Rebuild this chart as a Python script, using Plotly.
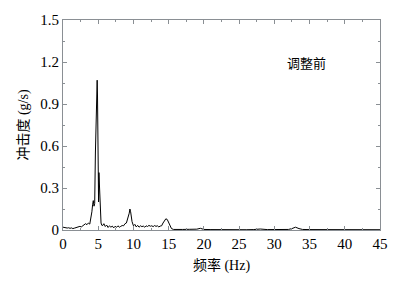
import plotly.graph_objects as go

freq = [0, 0.2, 0.4, 0.6, 0.8, 1.0, 1.2, 1.4, 1.6, 1.8, 2.0, 2.2, 2.4, 2.6, 2.8, 3.0, 3.2, 3.4,
        3.6, 3.8, 4.0, 4.1, 4.2, 4.3, 4.4, 4.5, 4.6, 4.7, 4.8, 4.85, 4.9, 4.95, 5.0, 5.05, 5.1,
        5.15, 5.2, 5.25, 5.3, 5.4, 5.5, 5.6, 5.8, 6.0, 6.2, 6.4, 6.6, 6.8, 7.0, 7.2, 7.4, 7.6,
        7.8, 8.0, 8.2, 8.4, 8.6, 8.8, 9.0, 9.2, 9.4, 9.5, 9.6, 9.8, 10.0, 10.2, 10.4, 10.6, 10.8,
        11.0, 11.2, 11.4, 11.6, 11.8, 12.0, 12.2, 12.4, 12.6, 12.8, 13.0, 13.2, 13.4, 13.6, 13.8,
        14.0, 14.2, 14.4, 14.6, 14.8, 15.0, 15.2, 15.4, 15.7, 16, 17, 18, 19, 19.5, 20, 21, 22,
        23, 24, 25, 26, 27, 28, 29, 30, 31, 32, 32.5, 33, 33.5, 34, 35, 36, 37, 38, 40, 42, 45]
jerk = [0.02, 0.017, 0.019, 0.014, 0.016, 0.012, 0.015, 0.01, 0.013, 0.016, 0.02, 0.018, 0.026,
        0.022, 0.03, 0.033, 0.045, 0.038, 0.05, 0.042, 0.09, 0.13, 0.18, 0.21, 0.17, 0.19, 0.55,
        0.9, 1.0, 1.07, 0.95, 0.75, 0.4, 0.2, 0.41, 0.35, 0.25, 0.15, 0.08, 0.05, 0.035, 0.03,
        0.045, 0.025, 0.035, 0.018, 0.03, 0.02, 0.028, 0.015, 0.027, 0.019, 0.03, 0.02, 0.026,
        0.032, 0.03, 0.045, 0.05, 0.08, 0.12, 0.15, 0.13, 0.06, 0.03, 0.04, 0.022, 0.033, 0.02,
        0.03, 0.024, 0.028, 0.02, 0.03, 0.025, 0.033, 0.027, 0.03, 0.024, 0.032, 0.026, 0.03,
        0.022, 0.028, 0.03, 0.05, 0.07, 0.08, 0.075, 0.055, 0.03, 0.01, 0.004, 0.003, 0.004, 0.005,
        0.006, 0.012, 0.004, 0.003, 0.002, 0.006, 0.003, 0.002, 0.002, 0.003, 0.007, 0.003, 0.002,
        0.003, 0.004, 0.01, 0.02, 0.01, 0.004, 0.003, 0.003, 0.002, 0.002, 0.002, 0.002, 0.002]

x_ticks = [0, 5, 10, 15, 20, 25, 30, 35, 40, 45]
y_ticks = [0, 0.3, 0.6, 0.9, 1.2, 1.5]
y_labels = ["0", "0.3", "0.6", "0.9", "1.2", "1.5"]

fig = go.Figure()
fig.add_trace(go.Scatter(x=freq, y=jerk, mode="lines",
                         line=dict(color="black", width=1)))

axis_common = dict(showline=True, linecolor="#8a8f94", linewidth=1, mirror="ticks",
                   ticks="inside", ticklen=4, tickcolor="#8a8f94", showgrid=False,
                   zeroline=False,
                   tickfont=dict(family="Liberation Serif", size=15, color="black"))

fig.update_layout(
    width=400, height=283,
    margin=dict(l=63, r=16, t=17, b=52),
    paper_bgcolor="white", plot_bgcolor="white",
    showlegend=False,
    xaxis=dict(range=[0, 45], tickvals=x_ticks,
               minor=dict(dtick=2.5, ticks="inside", ticklen=2, tickcolor="#8a8f94"),
               title=dict(text="频率 (Hz)", standoff=9,
                          font=dict(family="Liberation Serif, Noto Sans CJK SC", size=14, color="black")),
               **axis_common),
    yaxis=dict(range=[0, 1.5], tickvals=y_ticks, ticktext=y_labels,
               minor=dict(dtick=0.15, ticks="inside", ticklen=2, tickcolor="#8a8f94"),
               title=dict(text="冲击度 (g/s)", standoff=8,
                          font=dict(family="Liberation Serif, Noto Sans CJK SC", size=14, color="black")),
               **axis_common),
    annotations=[dict(x=34.5, y=1.2, xref="x", yref="y", text="调整前", showarrow=False,
                      font=dict(family="Noto Sans CJK SC", size=13, color="black"))],
)

fig.write_html("out.html")
